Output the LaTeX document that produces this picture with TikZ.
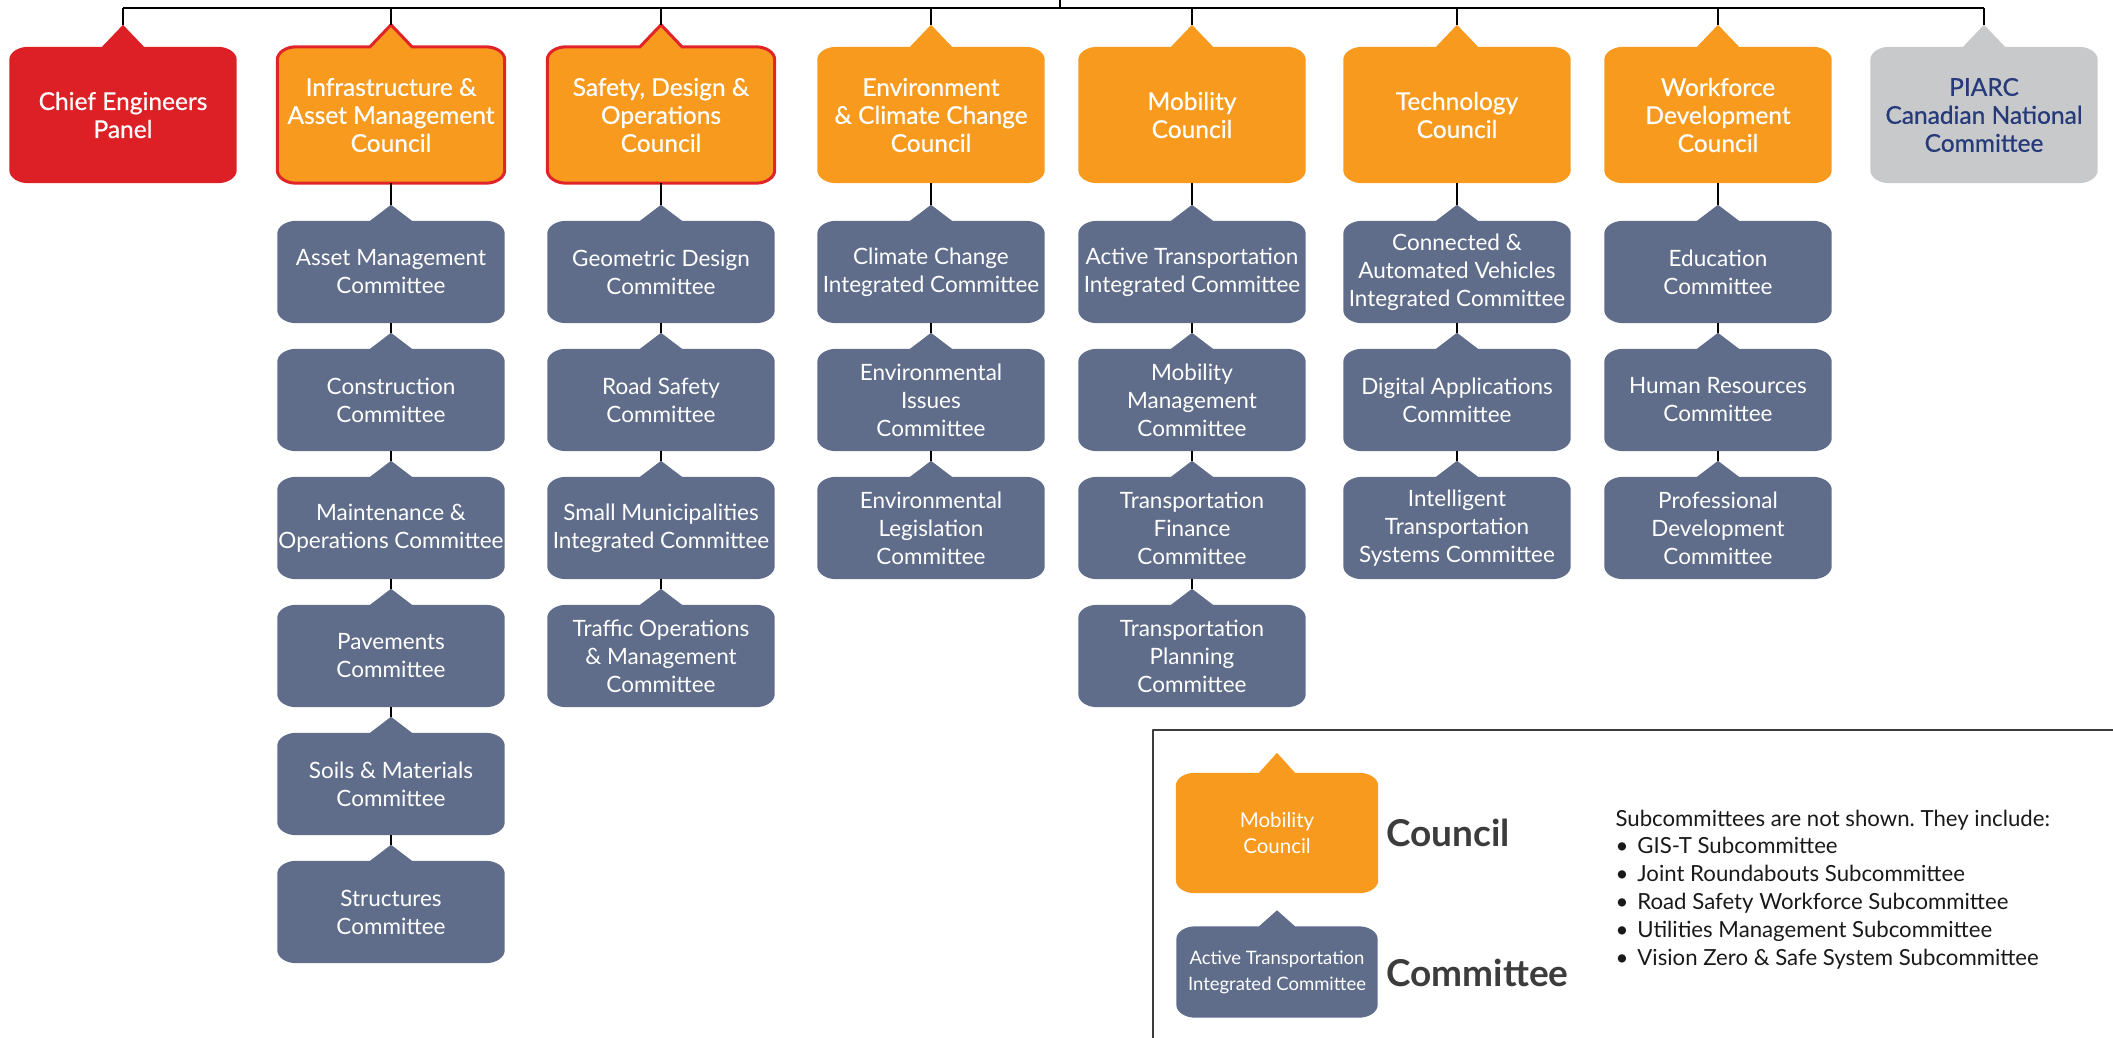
\documentclass[tikz,border=0pt]{standalone}
\usepackage{fontspec}
\setmainfont{Lato}
\newfontfamily\medfont{Lato}[FakeBold=0.6]
\usetikzlibrary{backgrounds}
\definecolor{chiefred}{RGB}{221,31,38}
\definecolor{councilorange}{RGB}{247,154,30}
\definecolor{borderred}{RGB}{224,36,40}
\definecolor{slate}{RGB}{95,109,138}
\definecolor{piarcgray}{RGB}{200,201,203}
\definecolor{piarcblue}{RGB}{38,58,122}
\definecolor{legendgray}{RGB}{60,60,60}
\frenchspacing
\begin{document}
\begin{tikzpicture}[x=1pt, y=-1pt, line join=round]
	\tikzset{
		council/.style={minimum width=227pt, minimum height=136pt, inner sep=0pt, align=center, text=white, font=\medfont\fontsize{24.5}{28}\selectfont},
		cmte/.style={minimum width=227pt, minimum height=102pt, inner sep=0pt, align=center, text=white, font=\fontsize{22.5}{28}\selectfont},
		link/.style={draw=black, line width=1.5pt},
		subline/.style={anchor=base west, text=black!90, font=\fontsize{22.2}{28}\selectfont}
	}
	\def\rx{19pt}
	\def\ry{13pt}
	\def\callout#1#2#3{([xshift=\rx]#1.north west) -- ([xshift=-#3]#1.north) -- ++(#3,#2) -- ++(#3,-#2) -- ([xshift=-\rx]#1.north east) arc[start angle=90, end angle=0, x radius=\rx, y radius=\ry] -- ([yshift=\ry]#1.south east) arc[start angle=0, end angle=-90, x radius=\rx, y radius=\ry] -- ([xshift=\rx]#1.south west) arc[start angle=-90, end angle=-180, x radius=\rx, y radius=\ry] -- ([yshift=-\ry]#1.north west) arc[start angle=180, end angle=90, x radius=\rx, y radius=\ry] -- cycle}
	\useasboundingbox (0,0) rectangle (2113,1037);
	% councils
	\node[council] (chief) at (123,115) {Chief Engineers\\Panel};
	\node[council] (infra) at (391,115) {Infrastructure \&\\Asset Management\\Council};
	\node[council] (safety) at (661,115) {Safety, Design \&\\Operations\\Council};
	\node[council] (env) at (931,115) {Environment\\\& Climate Change\\Council};
	\node[council] (mob) at (1192,115) {Mobility\\Council};
	\node[council] (tech) at (1457,115) {Technology\\Council};
	\node[council] (work) at (1718,115) {Workforce\\Development\\Council};
	\node[council, text=piarcblue] (piarc) at (1984,115) {PIARC\\Canadian National\\Committee};
	% committees
	\foreach \txt [count=\i] in {{Asset Management\\Committee}, {Construction\\Committee}, {Maintenance \&\\Operations Committee}, {Pavements\\Committee}, {Soils \& Materials\\Committee}, {Structures\\Committee}}
		\node[cmte] (infra\i) at (391,144+128*\i) {\txt};
	\foreach \txt [count=\i] in {{Geometric Design\\Committee}, {Road Safety\\Committee}, {Small Municipalities\\Integrated Committee}, {Traffic Operations\\\& Management\\Committee}}
		\node[cmte] (safety\i) at (661,144+128*\i) {\txt};
	\foreach \txt [count=\i] in {{Climate Change\\Integrated Committee}, {Environmental\\Issues\\Committee}, {Environmental\\Legislation\\Committee}}
		\node[cmte] (env\i) at (931,144+128*\i) {\txt};
	\foreach \txt [count=\i] in {{Active Transportation\\Integrated Committee}, {Mobility\\Management\\Committee}, {Transportation\\Finance\\Committee}, {Transportation\\Planning\\Committee}}
		\node[cmte] (mob\i) at (1192,144+128*\i) {\txt};
	\foreach \txt [count=\i] in {{Connected \&\\Automated Vehicles\\Integrated Committee}, {Digital Applications\\Committee}, {Intelligent\\Transportation\\Systems Committee}}
		\node[cmte] (tech\i) at (1457,144+128*\i) {\txt};
	\foreach \txt [count=\i] in {{Education\\Committee}, {Human Resources\\Committee}, {Professional\\Development\\Committee}}
		\node[cmte] (work\i) at (1718,144+128*\i) {\txt};
	% connectors
	\coordinate (top) at (1060,-3);
	\coordinate (bus) at (1060,8);
	\draw[link] (top) -- (bus);
	\draw[link] (bus -| chief) -- (bus -| piarc);
	\foreach \col in {chief, infra, safety, env, mob, tech, work, piarc}
		\draw[link] (bus -| \col) -- ([yshift=22pt]\col.north);
	\foreach \col/\n in {infra/6, safety/4, env/3, mob/4, tech/3, work/3} {
		\draw[link] (\col.south) -- ([yshift=16pt]\col1.north);
		\foreach \i [evaluate=\i as \j using int(\i-1)] in {2,...,\n}
			\draw[link] (\col\j.south) -- ([yshift=16pt]\col\i.north);
	}
	% legend
	\draw[line width=2.5pt, draw=legendgray] (1153,1045) |- (2125,730);
	\node[minimum width=202pt, minimum height=120pt, inner sep=0pt, align=center, text=white, font=\fontsize{20.5}{26}\selectfont] (legcouncil) at (1277,833) {Mobility\\Council};
	\node[minimum width=201pt, minimum height=91pt, inner sep=0pt, align=center, text=white, font=\fontsize{18.5}{26}\selectfont] (legcmte) at (1277,972) {Active Transportation\\Integrated Committee};
	\node[anchor=west, text=legendgray, font=\bfseries\fontsize{37}{40}\selectfont] (councilkey) at (1383,833) {Council};
	\node[anchor=west, text=legendgray, font=\bfseries\fontsize{37}{40}\selectfont] (cmtekey) at (1383,973) {Committee};
	\node[subline] (subhead) at (1612,826) {Subcommittees are not shown. They include:};
	\foreach \s [count=\i] in {GIS-T Subcommittee, Joint Roundabouts Subcommittee, Road Safety Workforce Subcommittee, Utilities Management Subcommittee, Vision Zero \& Safe System Subcommittee}
		\node[subline] (sub\i) at (1612,826+27.8*\i) {\textbullet\hspace{9pt}\s};
	% shapes behind the text
	\begin{scope}[on background layer]
		\fill[chiefred] \callout{chief}{22pt}{21pt};
		\filldraw[fill=councilorange, draw=borderred, line width=3pt] \callout{infra}{22pt}{21pt} \callout{safety}{22pt}{21pt};
		\foreach \col in {env, mob, tech, work}
			\fill[councilorange] \callout{\col}{22pt}{21pt};
		\fill[piarcgray] \callout{piarc}{22pt}{21pt};
		\foreach \col/\n in {infra/6, safety/4, env/3, mob/4, tech/3, work/3}
			\foreach \i in {1,...,\n}
				\fill[slate] \callout{\col\i}{16pt}{21pt};
		\fill[councilorange] \callout{legcouncil}{20pt}{18pt};
		\fill[slate] \callout{legcmte}{16pt}{18pt};
	\end{scope}
\end{tikzpicture}
\end{document}
